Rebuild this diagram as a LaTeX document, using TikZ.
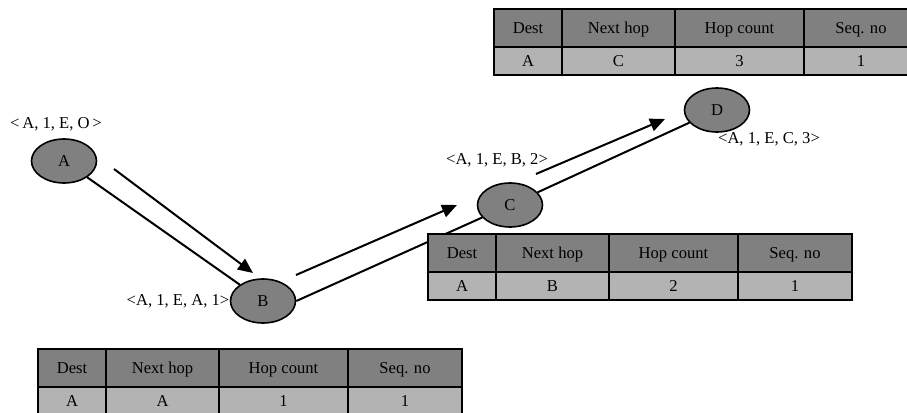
\documentclass[tikz,border=0pt]{standalone}
\usepackage{fontspec}
\setmainfont{Liberation Serif}
\usetikzlibrary{arrows.meta,shapes.geometric}

\definecolor{hdrgray}{RGB}{128,128,128}
\definecolor{rowgray}{RGB}{179,179,179}
\definecolor{nodegray}{RGB}{128,128,128}

\tikzset{
  txt/.style={font=\fontsize{8.3}{10}\selectfont},
  hop/.style={ellipse, draw, line width=0.8pt, fill=nodegray, inner sep=0pt,
              minimum width=32.5pt, minimum height=22pt, txt},
  cell/.style={draw, line width=1pt, inner sep=0pt, anchor=north west, txt,
               text height=1.45ex, text depth=0.35ex},
  hcell/.style={cell, fill=hdrgray, minimum height=19pt},
  dcell/.style={cell, fill=rowgray, minimum height=14pt},
  link/.style={line width=1pt},
  msg/.style={line width=1pt, -{Triangle[length=7.5pt,width=6.5pt]}},
  lbl/.style={txt, inner sep=0pt},
}

% routing table: name, left x, top y, next hop, hop count
\newcommand\routetable[5]{%
  \node[hcell, minimum width=34pt]   (#1-h1) at (#2,#3) {Dest};
  \node[hcell, minimum width=56.5pt] (#1-h2) at ({#2+68},#3) {Next hop};
  \node[hcell, minimum width=64.5pt] (#1-h3) at ({#2+181},#3) {Hop count};
  \node[hcell, minimum width=57pt]   (#1-h4) at ({#2+310},#3) {Seq. no};
  \node[dcell, minimum width=34pt]   (#1-d1) at (#2,{#3+38}) {A};
  \node[dcell, minimum width=56.5pt] (#1-d2) at ({#2+68},{#3+38}) {#4};
  \node[dcell, minimum width=64.5pt] (#1-d3) at ({#2+181},{#3+38}) {#5};
  \node[dcell, minimum width=57pt]   (#1-d4) at ({#2+310},{#3+38}) {1};
}

\begin{document}
\begin{tikzpicture}[x=0.5pt, y=-0.5pt]
  \useasboundingbox (0,0) rectangle (907,413);
  \clip (0,0) rectangle (907,413);

  % nodes of the route
  \node[hop] (A) at (64,161) {A};
  \node[hop] (B) at (263,301) {B};
  \node[hop] (C) at (510,205) {C};
  \node[hop] (D) at (717,110) {D};

  % links between neighbours
  \draw[link] (A) -- (B);
  \draw[link] (B.east) -- (C);
  \draw[link] (C) -- (D);

  % request messages travelling along the links
  \coordinate (ab1) at (114,169); \coordinate (ab2) at (253,273);
  \coordinate (bc1) at (296,275); \coordinate (bc2) at (457,205);
  \coordinate (cd1) at (536,174); \coordinate (cd2) at (665,119);
  \draw[msg] (ab1) -- (ab2);
  \draw[msg] (bc1) -- (bc2);
  \draw[msg] (cd1) -- (cd2);

  % message contents at each node
  \node[lbl] (la) at (56,124) {<\,A, 1, E, O\,>};
  \node[lbl, anchor=east] (lb) at (B.west) {<A, 1, E, A, 1>};
  \node[lbl] (lc) at (497,160) {<A, 1, E, B, 2>};
  \node[lbl] (ld) at (769,139) {<A, 1, E, C, 3>};

  % routing tables
  \routetable{tD}{493}{8}{C}{3}
  \routetable{tC}{427}{233}{B}{2}
  \routetable{tB}{37}{348}{A}{1}
\end{tikzpicture}
\end{document}
